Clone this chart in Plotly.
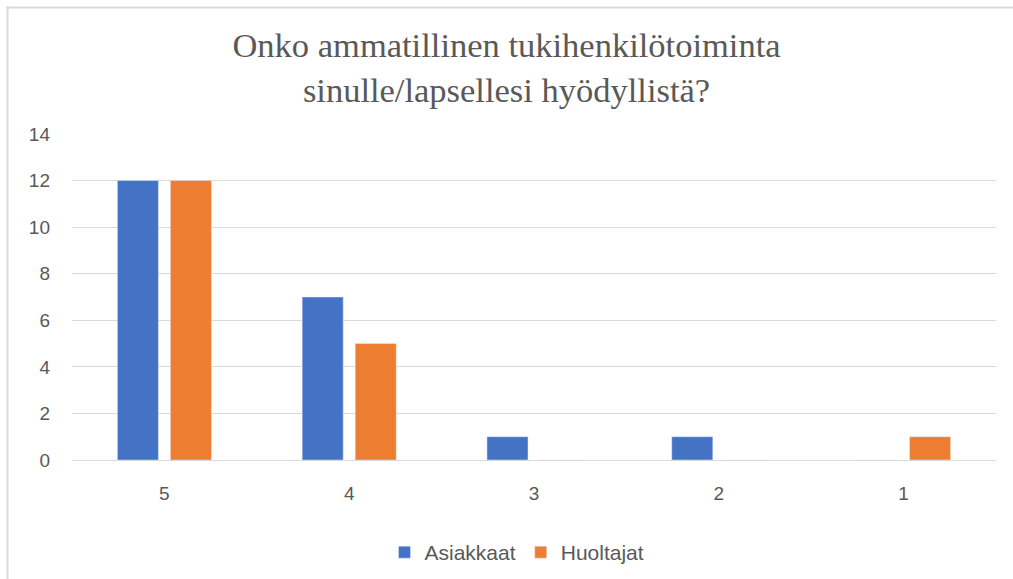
import plotly.graph_objects as go

categories = ["5", "4", "3", "2", "1"]
asiakkaat = [12, 7, 1, 1, 0]
huoltajat = [12, 5, 0, 0, 1]
y_ticks = [0, 2, 4, 6, 8, 10, 12, 14]

W, H = 1013, 579
L, R, T, B = 72, 17, 134, 119
pw, ph = W - L - R, H - T - B

def px_x(x):
    return (x - L) / pw

def px_y(y):
    return (H - B - y) / ph

fig = go.Figure()
fig.add_trace(go.Bar(name="Asiakkaat", x=categories, y=asiakkaat, marker_color="#4472C4"))
fig.add_trace(go.Bar(name="Huoltajat", x=categories, y=huoltajat, marker_color="#ED7D31"))

border = dict(color="#d9d9d9", width=2)

fig.update_layout(
    width=W, height=H,
    margin=dict(l=L, r=R, t=T, b=B),
    paper_bgcolor="white", plot_bgcolor="white",
    barmode="group", bargap=0.426, bargroupgap=0.226,
    title=dict(
        text="Onko ammatillinen tukihenkilötoiminta<br>sinulle/lapsellesi hyödyllistä?",
        font=dict(family="Liberation Serif, Times New Roman, serif", size=34.5, color="#595959"),
        x=0.5, xanchor="center", xref="container",
        y=1 - 57 / H, yanchor="top", yref="container",
    ),
    font=dict(family="Liberation Sans, Arial, sans-serif", color="#595959"),
    xaxis=dict(showgrid=False, showline=False, ticks="", tickfont=dict(size=19, color="#595959"),
               ticklabelstandoff=20),
    yaxis=dict(range=[0, 14], tickvals=y_ticks, showgrid=True, gridcolor="#d9d9d9", gridwidth=1,
               zeroline=True, zerolinecolor="#d9d9d9", zerolinewidth=1, showline=False,
               tickfont=dict(size=19, color="#595959"), ticklabelstandoff=21),
    legend=dict(orientation="h", x=517 / W, xanchor="center", xref="container",
                y=1 - 532 / H, yanchor="top", yref="container",
                font=dict(size=21, color="#595959"), itemwidth=30, traceorder="normal"),
    showlegend=True,
    shapes=[
        dict(type="line", xref="paper", yref="paper",
             x0=px_x(6.5), x1=px_x(W), y0=px_y(7.5), y1=px_y(7.5), line=border, layer="below"),
        dict(type="line", xref="paper", yref="paper",
             x0=px_x(7.5), x1=px_x(7.5), y0=px_y(H), y1=px_y(6.5), line=border, layer="below"),
    ],
)

fig.write_html("out.html", config={"displayModeBar": False},
               post_script="document.body.style.margin='0';document.body.style.overflow='hidden';")
